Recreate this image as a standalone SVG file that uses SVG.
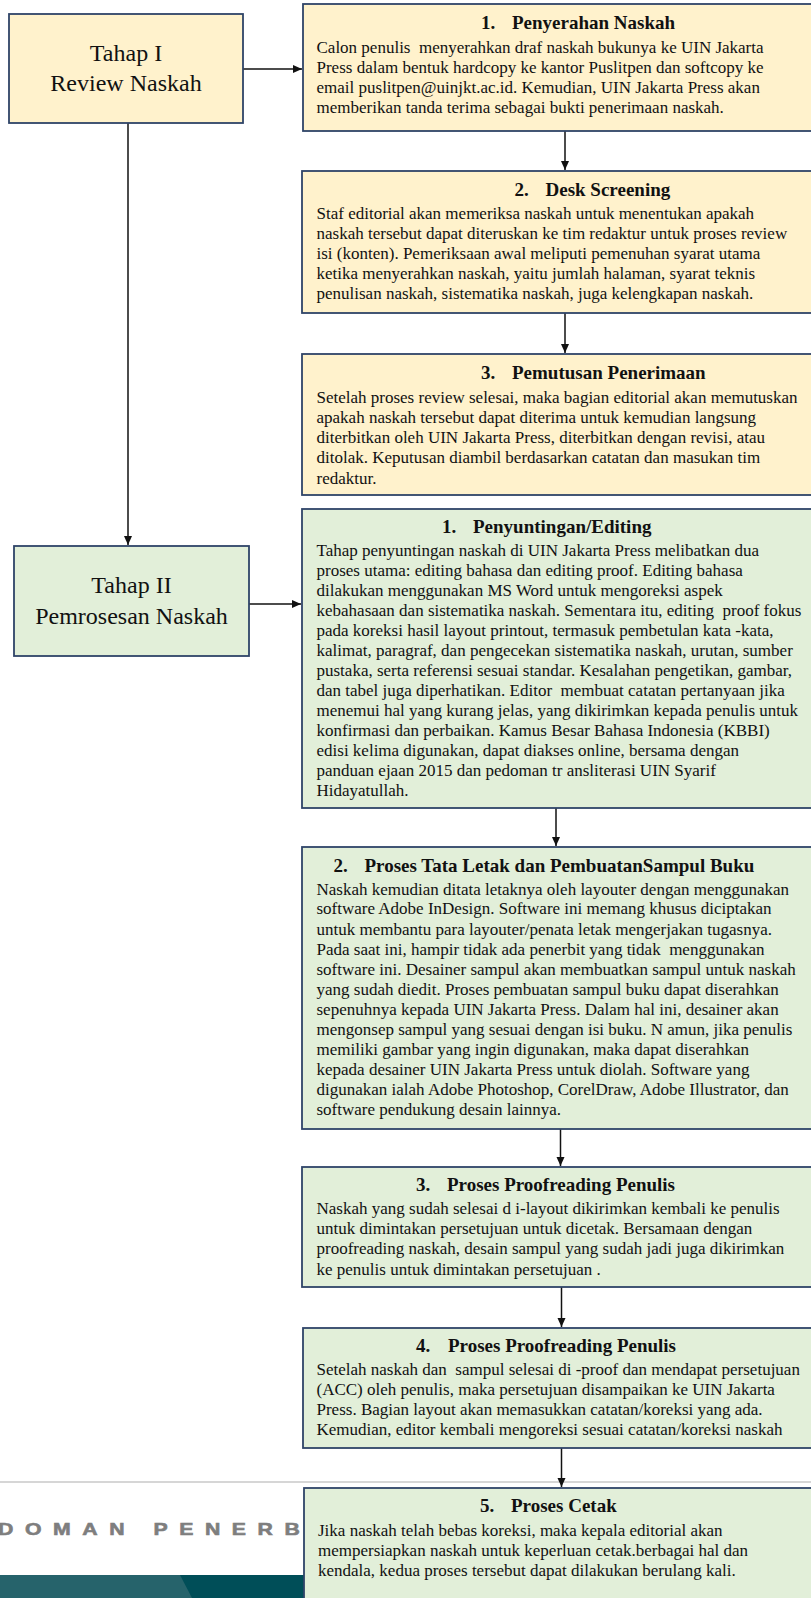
<svg xmlns="http://www.w3.org/2000/svg" width="811" height="1598" viewBox="0 0 811 1598">
<style>
.yb{fill:#FFF2CC;stroke:#2F4468;stroke-width:1.8}
.gb{fill:#E2EFD9;stroke:#2F4468;stroke-width:1.8}
.tahap{font-family:"Liberation Serif","Times New Roman",serif;font-size:24px;fill:#111;text-anchor:middle}
.ti{font-family:"Liberation Serif","Times New Roman",serif;font-size:19px;font-weight:bold;fill:#111}
.bd{font-family:"Liberation Serif","Times New Roman",serif;font-size:17px;fill:#111;white-space:pre}
.cn{fill:none;stroke:#111;stroke-width:1.5}
.ft{font-family:"Liberation Sans",Arial,sans-serif;font-size:17px;font-weight:bold;fill:#7E7E7E;stroke:#7E7E7E;stroke-width:0.6;letter-spacing:9.25px}
</style>
<defs>
<marker id="ah" markerWidth="10" markerHeight="10" refX="9" refY="5" orient="auto" markerUnits="userSpaceOnUse">
<path d="M0,1 L9,5 L0,9 Z" fill="#111"/>
</marker>
</defs>
<rect width="811" height="1598" fill="#fff"/>
<g id="footer">
<line x1="0" y1="1482" x2="811" y2="1482" stroke="#D6D6D6" stroke-width="2"/>
<text class="ft" transform="translate(-2,1534.5) scale(1.25,1)" x="0" y="0">DOMAN PENERB</text>
<rect x="0" y="1575" width="811" height="23" fill="#004E58"/>
<polygon points="0,1575 180,1575 192,1598 0,1598" fill="#26636B"/>
</g>
<g id="connectors">
<line class="cn" x1="243" y1="69" x2="302" y2="69" marker-end="url(#ah)"/>
<line class="cn" x1="128" y1="123" x2="128" y2="545" marker-end="url(#ah)"/>
<line class="cn" x1="249" y1="604" x2="301" y2="604" marker-end="url(#ah)"/>
<line class="cn" x1="565" y1="131" x2="565" y2="170" marker-end="url(#ah)"/>
<line class="cn" x1="565" y1="313" x2="565" y2="353" marker-end="url(#ah)"/>
<line class="cn" x1="556" y1="808" x2="556" y2="846" marker-end="url(#ah)"/>
<line class="cn" x1="560.5" y1="1129" x2="560.5" y2="1166" marker-end="url(#ah)"/>
<line class="cn" x1="561.5" y1="1287" x2="561.5" y2="1327" marker-end="url(#ah)"/>
<line class="cn" x1="561.5" y1="1448" x2="561.5" y2="1487" marker-end="url(#ah)"/>
</g>
<g id="tahap1">
<rect class="yb" x="9" y="14" width="234" height="109"/>
<text class="tahap" x="126" y="61">Tahap I</text>
<text class="tahap" x="126" y="91">Review Naskah</text>
</g>
<g id="tahap2">
<rect class="gb" x="14" y="546" width="235" height="110"/>
<text class="tahap" x="131.5" y="593">Tahap II</text>
<text class="tahap" x="131.5" y="624">Pemrosesan Naskah</text>
</g>
<g id="box1">
<rect class="yb" x="303" y="4" width="540" height="127"/>
<text class="ti" x="481" y="29">1.</text><text class="ti" x="512" y="29">Penyerahan Naskah</text>
<text class="bd" x="316.5" y="53">Calon penulis  menyerahkan draf naskah bukunya ke UIN Jakarta</text>
<text class="bd" x="316.5" y="73">Press dalam bentuk hardcopy ke kantor Puslitpen dan softcopy ke</text>
<text class="bd" x="316.5" y="93">email puslitpen@uinjkt.ac.id. Kemudian, UIN Jakarta Press akan</text>
<text class="bd" x="316.5" y="113">memberikan tanda terima sebagai bukti penerimaan naskah.</text>
</g>
<g id="box2">
<rect class="yb" x="302" y="171" width="540" height="142"/>
<text class="ti" x="514.5" y="196">2.</text><text class="ti" x="545.5" y="196">Desk Screening</text>
<text class="bd" x="316.5" y="219">Staf editorial akan memeriksa naskah untuk menentukan apakah</text>
<text class="bd" x="316.5" y="239">naskah tersebut dapat diteruskan ke tim redaktur untuk proses review</text>
<text class="bd" x="316.5" y="259">isi (konten). Pemeriksaan awal meliputi pemenuhan syarat utama</text>
<text class="bd" x="316.5" y="279">ketika menyerahkan naskah, yaitu jumlah halaman, syarat teknis</text>
<text class="bd" x="316.5" y="299">penulisan naskah, sistematika naskah, juga kelengkapan naskah.</text>
</g>
<g id="box3">
<rect class="yb" x="302" y="354" width="540" height="141"/>
<text class="ti" x="481" y="379">3.</text><text class="ti" x="512" y="379">Pemutusan Penerimaan</text>
<text class="bd" x="316.5" y="403">Setelah proses review selesai, maka bagian editorial akan memutuskan</text>
<text class="bd" x="316.5" y="423">apakah naskah tersebut dapat diterima untuk kemudian langsung</text>
<text class="bd" x="316.5" y="443">diterbitkan oleh UIN Jakarta Press, diterbitkan dengan revisi, atau</text>
<text class="bd" x="316.5" y="463">ditolak. Keputusan diambil berdasarkan catatan dan masukan tim</text>
<text class="bd" x="316.5" y="484">redaktur.</text>
</g>
<g id="box4">
<rect class="gb" x="302" y="509" width="540" height="299"/>
<text class="ti" x="442" y="533">1.</text><text class="ti" x="473" y="533">Penyuntingan/Editing</text>
<text class="bd" x="316.5" y="556">Tahap penyuntingan naskah di UIN Jakarta Press melibatkan dua</text>
<text class="bd" x="316.5" y="576">proses utama: editing bahasa dan editing proof. Editing bahasa</text>
<text class="bd" x="316.5" y="596">dilakukan menggunakan MS Word untuk mengoreksi aspek</text>
<text class="bd" x="316.5" y="616">kebahasaan dan sistematika naskah. Sementara itu, editing  proof fokus</text>
<text class="bd" x="316.5" y="636">pada koreksi hasil layout printout, termasuk pembetulan kata -kata,</text>
<text class="bd" x="316.5" y="656">kalimat, paragraf, dan pengecekan sistematika naskah, urutan, sumber</text>
<text class="bd" x="316.5" y="676">pustaka, serta referensi sesuai standar. Kesalahan pengetikan, gambar,</text>
<text class="bd" x="316.5" y="696">dan tabel juga diperhatikan. Editor  membuat catatan pertanyaan jika</text>
<text class="bd" x="316.5" y="716">menemui hal yang kurang jelas, yang dikirimkan kepada penulis untuk</text>
<text class="bd" x="316.5" y="736">konfirmasi dan perbaikan. Kamus Besar Bahasa Indonesia (KBBI)</text>
<text class="bd" x="316.5" y="756">edisi kelima digunakan, dapat diakses online, bersama dengan</text>
<text class="bd" x="316.5" y="776">panduan ejaan 2015 dan pedoman tr ansliterasi UIN Syarif</text>
<text class="bd" x="316.5" y="796">Hidayatullah.</text>
</g>
<g id="box5">
<rect class="gb" x="302" y="847" width="540" height="282"/>
<text class="ti" x="333.5" y="872">2.</text><text class="ti" x="364.5" y="872">Proses Tata Letak dan PembuatanSampul Buku</text>
<text class="bd" x="316.5" y="895">Naskah kemudian ditata letaknya oleh layouter dengan menggunakan</text>
<text class="bd" x="316.5" y="914">software Adobe InDesign. Software ini memang khusus diciptakan</text>
<text class="bd" x="316.5" y="935">untuk membantu para layouter/penata letak mengerjakan tugasnya.</text>
<text class="bd" x="316.5" y="955">Pada saat ini, hampir tidak ada penerbit yang tidak  menggunakan</text>
<text class="bd" x="316.5" y="975">software ini. Desainer sampul akan membuatkan sampul untuk naskah</text>
<text class="bd" x="316.5" y="995">yang sudah diedit. Proses pembuatan sampul buku dapat diserahkan</text>
<text class="bd" x="316.5" y="1015">sepenuhnya kepada UIN Jakarta Press. Dalam hal ini, desainer akan</text>
<text class="bd" x="316.5" y="1035">mengonsep sampul yang sesuai dengan isi buku. N amun, jika penulis</text>
<text class="bd" x="316.5" y="1055">memiliki gambar yang ingin digunakan, maka dapat diserahkan</text>
<text class="bd" x="316.5" y="1075">kepada desainer UIN Jakarta Press untuk diolah. Software yang</text>
<text class="bd" x="316.5" y="1095">digunakan ialah Adobe Photoshop, CorelDraw, Adobe Illustrator, dan</text>
<text class="bd" x="316.5" y="1115">software pendukung desain lainnya.</text>
</g>
<g id="box6">
<rect class="gb" x="302" y="1167" width="540" height="120"/>
<text class="ti" x="416" y="1191">3.</text><text class="ti" x="447" y="1191">Proses Proofreading Penulis</text>
<text class="bd" x="316.5" y="1214">Naskah yang sudah selesai d i-layout dikirimkan kembali ke penulis</text>
<text class="bd" x="316.5" y="1234">untuk dimintakan persetujuan untuk dicetak. Bersamaan dengan</text>
<text class="bd" x="316.5" y="1254">proofreading naskah, desain sampul yang sudah jadi juga dikirimkan</text>
<text class="bd" x="316.5" y="1275">ke penulis untuk dimintakan persetujuan .</text>
</g>
<g id="box7">
<rect class="gb" x="303" y="1328" width="540" height="120"/>
<text class="ti" x="416" y="1352">4.</text><text class="ti" x="448" y="1352">Proses Proofreading Penulis</text>
<text class="bd" x="316.5" y="1375">Setelah naskah dan  sampul selesai di -proof dan mendapat persetujuan</text>
<text class="bd" x="316.5" y="1395">(ACC) oleh penulis, maka persetujuan disampaikan ke UIN Jakarta</text>
<text class="bd" x="316.5" y="1415">Press. Bagian layout akan memasukkan catatan/koreksi yang ada.</text>
<text class="bd" x="316.5" y="1435">Kemudian, editor kembali mengoreksi sesuai catatan/koreksi naskah</text>
</g>
<g id="box8">
<rect class="gb" x="304" y="1488" width="540" height="130"/>
<text class="ti" x="480" y="1512">5.</text><text class="ti" x="511" y="1512">Proses Cetak</text>
<text class="bd" x="318" y="1536">Jika naskah telah bebas koreksi, maka kepala editorial akan</text>
<text class="bd" x="318" y="1556">mempersiapkan naskah untuk keperluan cetak.berbagai hal dan</text>
<text class="bd" x="318" y="1576">kendala, kedua proses tersebut dapat dilakukan berulang kali.</text>
</g>
</svg>
